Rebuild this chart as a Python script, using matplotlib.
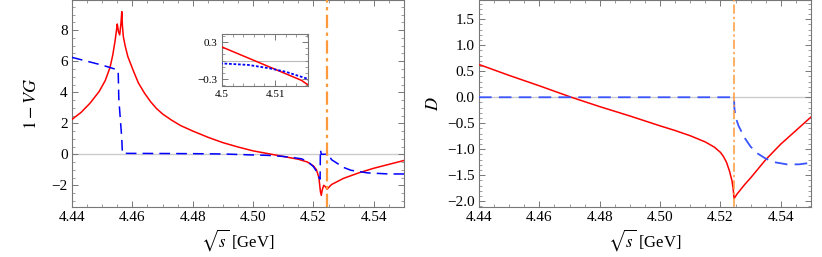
import matplotlib
matplotlib.use("Agg")
import matplotlib.pyplot as plt
from matplotlib.ticker import MultipleLocator, FormatStrFormatter

plt.rcParams['font.family'] = ['Liberation Serif', 'DejaVu Serif']
plt.rcParams['mathtext.fontset'] = 'stix'

# left panel: 1 - VG
x_re = [4.44, 4.443, 4.446, 4.449, 4.451, 4.4526, 4.4535, 4.4543, 4.4548, 4.4550,
        4.4554, 4.4558, 4.4562, 4.4565, 4.4567, 4.4570, 4.4576, 4.4585, 4.4595,
        4.4605, 4.462, 4.464, 4.466, 4.468, 4.47, 4.473, 4.476, 4.48, 4.485, 4.49,
        4.495, 4.50, 4.505, 4.51, 4.515, 4.518, 4.52, 4.521, 4.5218, 4.5223, 4.5226,
        4.5229, 4.5234, 4.524, 4.5245, 4.526, 4.528, 4.53, 4.535, 4.54, 4.545, 4.55]
re_vg = [2.25, 2.7, 3.3, 4.05, 4.75, 5.6, 6.4, 7.35, 8.1, 8.4,
         7.9, 7.7, 8.4, 9.2, 8.3, 7.6, 7.0, 6.3, 5.8,
         5.3, 4.6, 3.95, 3.4, 2.95, 2.6, 2.2, 1.85, 1.5, 1.1, 0.75,
         0.47, 0.22, 0.04, -0.14, -0.32, -0.5, -0.75, -1.0, -1.5, -2.4, -2.65,
         -2.3, -2.0, -2.1, -2.25, -1.95, -1.75, -1.55, -1.2, -0.9, -0.65, -0.4]

x_im = [4.44, 4.445, 4.45, 4.455, 4.4553, 4.4555, 4.4565, 4.4567, 4.47, 4.48, 4.49,
        4.50, 4.505, 4.509, 4.512, 4.516, 4.518, 4.52, 4.521, 4.5218, 4.5222, 4.5223,
        4.5226, 4.5245, 4.5246, 4.526, 4.528, 4.53, 4.5324, 4.5347, 4.5379, 4.54,
        4.545, 4.55]
im_vg = [6.25, 6.0, 5.75, 5.45, 5.4, 3.6, 1.0, 0.06, 0.05, 0.04, 0.02,
         -0.045, -0.07, -0.125, -0.18, -0.29, -0.45, -0.8, -1.1, -1.5, -1.6, 0.3,
         0.0, 0.0, 0.1, -0.35, -0.6, -0.85, -1.03, -1.1, -1.2, -1.22,
         -1.27, -1.27]

# right panel: D
x_dre = [4.44, 4.45, 4.46, 4.4706, 4.48, 4.49, 4.50, 4.505, 4.51, 4.515, 4.518,
         4.52, 4.521, 4.522, 4.523, 4.5238, 4.5242, 4.5245, 4.5255, 4.528, 4.53,
         4.535, 4.54, 4.545, 4.55]
d_re = [0.63, 0.42, 0.22, 0.0, -0.18, -0.36, -0.55, -0.64, -0.74, -0.86, -0.96,
        -1.06, -1.14, -1.25, -1.42, -1.6, -1.75, -1.95, -1.86, -1.68, -1.55,
        -1.2, -0.9, -0.64, -0.38]

x_dim = [4.44, 4.5245, 4.5246, 4.525, 4.526, 4.528, 4.53, 4.532, 4.535, 4.538,
         4.542, 4.546, 4.55]
d_im = [0.0, 0.0, -0.2, -0.38, -0.55, -0.78, -0.95, -1.07, -1.18, -1.25,
        -1.29, -1.29, -1.26]

threshold = 4.5245

fig = plt.figure(figsize=(8.22, 2.57), dpi=100)
ax1 = fig.add_axes([72/822, 1-207/257, (404-72)/822, 207/257])
ax2 = fig.add_axes([479/822, 1-207/257, (811-479)/822, 207/257])
ins = fig.add_axes([222/822, 1-86/257, 86/822, 52/257])

frame = '#777777'

def style(ax, xmaj, xmin, ymaj, ymin, size=9):
    for s in ax.spines.values():
        s.set_color(frame)
        s.set_linewidth(0.8)
    ax.xaxis.set_major_locator(MultipleLocator(xmaj))
    ax.xaxis.set_minor_locator(MultipleLocator(xmin))
    ax.yaxis.set_major_locator(MultipleLocator(ymaj))
    ax.yaxis.set_minor_locator(MultipleLocator(ymin))
    ax.tick_params(which='both', direction='in', top=True, right=True,
                   color=frame, labelsize=size, pad=3)
    ax.tick_params(which='major', length=4, width=0.7)
    ax.tick_params(which='minor', length=2, width=0.5)

# left
ax1.axhline(0, color='#cccccc', lw=1, zorder=1)
ax1.plot(x_re, re_vg, color='red', lw=1.1, zorder=3)
ax1.plot(x_im, im_vg, color='blue', lw=1.1, dashes=(7, 4), zorder=3)
ax1.axvline(threshold, color='#ff9a3c', lw=1.6, dashes=(6, 2, 1.5, 2), zorder=4)
ax1.set_xlim(4.44, 4.55)
ax1.set_ylim(-3.4, 9.95)
style(ax1, 0.02, 0.005, 2, 0.5, 11)
ax1.xaxis.set_major_formatter(FormatStrFormatter('%.2f'))
ax1.set_yticks([-2, 0, 2, 4, 6, 8])
ax1.set_yticklabels(['\u22122', '0', '2', '4', '6', '8'])
ax1.set_xlabel(r'$\sqrt{s}$ [GeV]', fontsize=12, labelpad=2)
ax1.set_ylabel(r'$1-VG$', fontsize=13, labelpad=8)

# inset
ins.axhline(0, color='#bbbbbb', lw=0.8, zorder=1)
ins.plot(x_re, re_vg, color='red', lw=1.1, zorder=3)
ins.plot(x_im, im_vg, color='blue', lw=1.3, dashes=(1.5, 1), zorder=3)
ins.set_xlim(4.5, 4.5162)
ins.set_ylim(-0.41, 0.43)
style(ins, 0.01, 0.002, 0.3, 0.1, 8)
ins.set_xticks([4.5, 4.51])
ins.set_xticklabels(['4.5', '4.51'])
ins.set_yticks([-0.3, 0.3])
ins.set_yticklabels(['\u22120.3', '0.3'])

# right
ax2.axhline(0, color='#cccccc', lw=1, zorder=1)
ax2.plot(x_dre, d_re, color='red', lw=1.1, zorder=3)
ax2.plot(x_dim, d_im, color='#3a55ff', lw=1.3, dashes=(7, 4), zorder=3)
ax2.axvline(threshold, color='#ff9a3c', lw=1.1, dashes=(6, 2, 1.5, 2), zorder=4)
ax2.set_xlim(4.44, 4.55)
ax2.set_ylim(-2.11, 1.87)
style(ax2, 0.02, 0.005, 0.5, 0.1, 11)
ax2.xaxis.set_major_formatter(FormatStrFormatter('%.2f'))
ax2.set_yticks([-2.0, -1.5, -1.0, -0.5, 0.0, 0.5, 1.0, 1.5])
ax2.set_yticklabels(['\u22122.0', '\u22121.5', '\u22121.0', '\u22120.5',
                     '0.0', '0.5', '1.0', '1.5'])
ax2.set_xlabel(r'$\sqrt{s}$ [GeV]', fontsize=12, labelpad=2)
ax2.set_ylabel(r'$D$', fontsize=13, labelpad=4)

fig.savefig('out.png', dpi=100)
